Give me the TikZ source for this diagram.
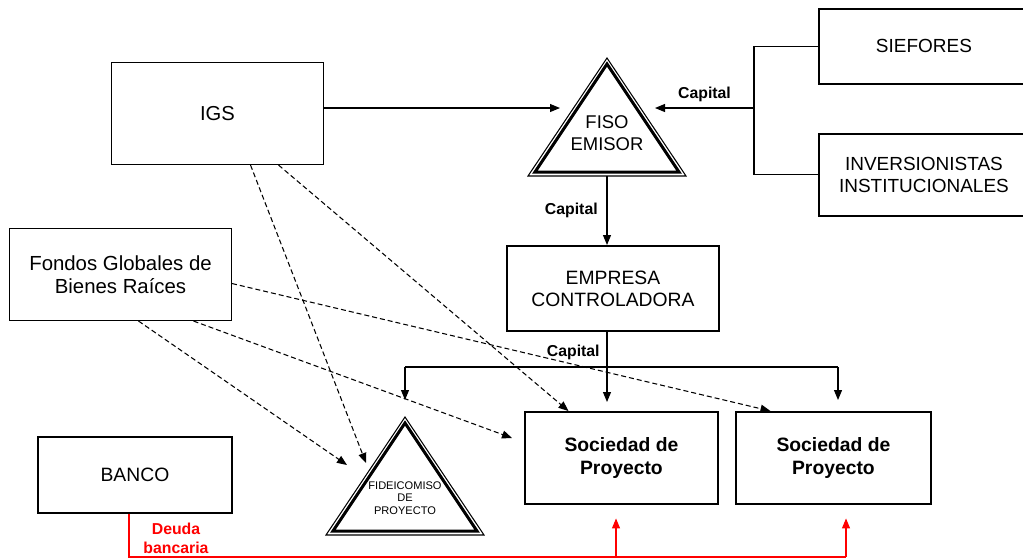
\documentclass[tikz,border=0pt]{standalone}
\usepackage{fontspec}
\setmainfont{Liberation Sans}
\usetikzlibrary{arrows.meta}

\newcommand{\letra}{\fontsize{11}{12.5}\selectfont}
\newcommand{\letrab}{\fontsize{11}{13}\selectfont\bfseries}
\newcommand{\triangulo}[2]{%
\draw[line width=0.6pt] (#1,#2) -- ++(-79,118) -- ++(158,0) -- cycle;
\draw[line width=1.7pt] (#1,#2) ++(0,6) -- ++(-72,108) -- ++(144,0) -- cycle;
}

\begin{document}
\begin{tikzpicture}[x=0.02cm,
y=-0.02cm,
every node/.style={
rectangle,
align = center,
inner sep=0pt,
},
box/.style={
draw,
anchor=north west,
line width=0.6pt,
font=\letra,
},
boxg/.style={
box,
line width=1.1pt,
},
flecha/.style={
-{Triangle[length=0.2cm,width=0.16cm]},
line width=0.6pt,
},
punteada/.style={
flecha,
dash pattern=on 0.1cm off 0.06cm,
},
roja/.style={
flecha,
draw=red,
},
etiq/.style={
font=\fontsize{9}{10.8}\selectfont\bfseries,
}]
\useasboundingbox (0,0) rectangle (1023,559);

%cajas
\node[box,minimum width=4.24cm,minimum height=2.04cm,font=\fontsize{11.5}{13}\selectfont] (igs) at (111,62) {IGS};
\node[box,minimum width=4.44cm,minimum height=1.84cm,font=\fontsize{11.6}{13}\selectfont] (fondos) at (9,228) {Fondos Globales de\\Bienes Raíces};
\node[boxg,minimum width=4.2cm,minimum height=1.5cm,font=\fontsize{10.8}{12.5}\selectfont] (siefores) at (818,8) {SIEFORES};
\node[boxg,minimum width=4.2cm,minimum height=1.64cm,font=\fontsize{10.8}{12.5}\selectfont] (inversionistas) at (818,133) {INVERSIONISTAS\\INSTITUCIONALES};
\node[boxg,minimum width=4.24cm,minimum height=1.7cm] (empresa) at (506,245) {EMPRESA\\CONTROLADORA};
\node[boxg,minimum width=3.86cm,minimum height=1.84cm,font=\letrab] (soc1) at (524,411) {Sociedad de\\Proyecto};
\node[boxg,minimum width=3.9cm,minimum height=1.84cm,font=\letrab] (soc2) at (735,411) {Sociedad de\\Proyecto};
\node[boxg,minimum width=3.88cm,minimum height=1.52cm] (banco) at (37,436) {BANCO};

%fideicomisos
\triangulo{607}{58}
\triangulo{405}{417}
\node[font=\fontsize{10.5}{12.5}\selectfont] (fiso) at (607,133) {FISO\\EMISOR};
\node[font=\fontsize{6.3}{7}\selectfont] (fide) at (405,498) {FIDEICOMISO\\DE\\PROYECTO};

\coordinate (fisoizq) at (560,108);
\coordinate (fisoder) at (655,108);
\coordinate (fisobase) at (607,176);
\coordinate (rama) at (754,108);
\coordinate (reparto) at (607,367);
\coordinate (repizq) at (405,367);
\coordinate (repder) at (838,367);
\coordinate (fideapex) at (405,400);
\coordinate (fideA) at (366,463);
\coordinate (fideB) at (347,465);
\coordinate (soc1izq) at (512,438);
\coordinate (deuda) at (129,557);
\coordinate (deuda1) at (616,557);
\coordinate (deuda2) at (846,557);

%capital
\draw[flecha] (igs.east |- fisoizq) -- (fisoizq);
\draw[line width=0.6pt] (siefores.west) -| (rama) |- (inversionistas.west);
\draw[flecha] (rama) -- (fisoder) node[etiq,midway,above,inner sep=3pt]{Capital};
\draw[flecha] (fisobase) -- (fisobase |- empresa.north) node[etiq,midway,left,inner sep=5pt]{Capital};
\draw[flecha,shorten >=0.18cm] (empresa.south -| reparto) -- (reparto |- soc1.north);
\draw[line width=0.6pt] (repizq) -- (repder);
\draw[flecha] (repizq) -- (fideapex);
\draw[flecha,shorten >=0.22cm] (repder) -- (repder |- soc2.north);
\node[etiq,anchor=south east,inner sep=4pt] (cap3) at (reparto) {Capital};

%inversion
\draw[punteada] ([xshift=0.66cm]igs.south) -- (fideA);
\draw[punteada] ([xshift=1.22cm]igs.south) -- ([xshift=-1.06cm]soc1.north);
\draw[punteada] ([xshift=0.36cm]fondos.south) -- (fideB);
\draw[punteada] ([xshift=1.46cm]fondos.south) -- (soc1izq);
\draw[punteada] ([yshift=-0.18cm]fondos.east) -- ([xshift=-1.26cm]soc2.north);

%deuda
\draw[draw=red,line width=0.6pt] (banco.south -| deuda) -- (deuda) -- (deuda2);
\draw[roja,shorten >=0.27cm] (deuda1) -- (deuda1 |- soc1.south);
\draw[roja,shorten >=0.27cm] (deuda2) -- (deuda2 |- soc2.south);
\node[etiq,text=red] (deudalab) at (176,538) {Deuda\\bancaria};
\end{tikzpicture}
\end{document}
